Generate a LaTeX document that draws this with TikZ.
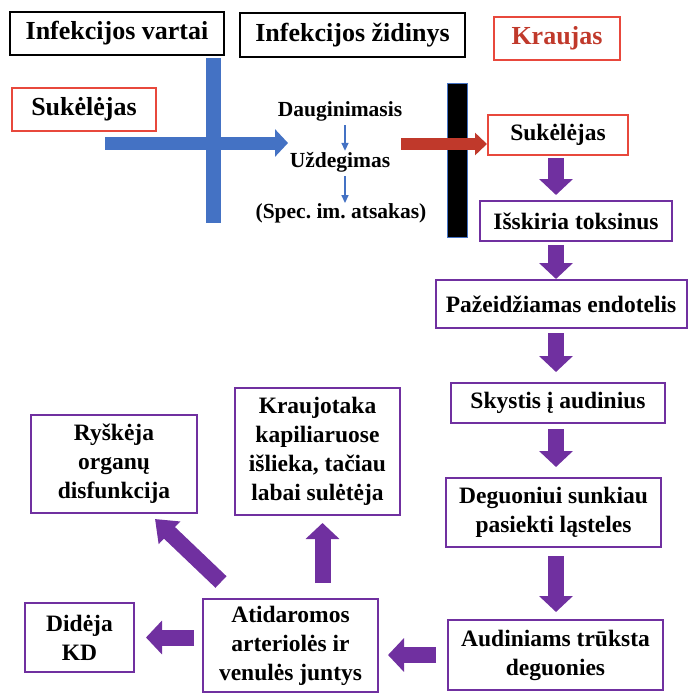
\documentclass[tikz,border=0pt]{standalone}
\usepackage{fontspec}
\setmainfont{Liberation Serif}
\usepackage{xcolor}
\usetikzlibrary{arrows.meta, positioning, calc}

\definecolor{gateblue}{HTML}{4472C4}
\definecolor{flowpurple}{HTML}{7030A0}
\definecolor{bloodred}{HTML}{E8483C}
\definecolor{arrowred}{HTML}{C0392B}

\begin{document}
\frenchspacing
\begin{tikzpicture}[
    x=1pt, y=-1pt,
    every node/.style={inner sep=0pt, align=center},
    headbox/.style={draw=black, line width=2pt, font=\fontsize{26}{30}\selectfont\bfseries},
    redbox/.style={draw=bloodred, line width=2pt, font=\fontsize{23.5}{28}\selectfont\bfseries},
    flowbox/.style={draw=flowpurple, line width=2pt, font=\fontsize{23.5}{29}\selectfont\bfseries},
    stagetext/.style={font=\fontsize{21.5}{25}\selectfont\bfseries},
    flowarrow/.style={flowpurple, line width=16pt, -{Triangle[length=16pt, width=33pt]}},
    thinarrow/.style={gateblue, line width=1.5pt, -{Triangle[length=8pt, width=7pt]}},
]
\useasboundingbox (0,0) rectangle (688,693);

%% Headers
\node[headbox, minimum width=214pt, minimum height=43pt] (vartai) at (117,33.5) {Infekcijos vartai};
\node[headbox, minimum width=225pt, minimum height=44pt] (zidinys) at (352.5,35) {Infekcijos židinys};
\node[redbox, text=arrowred, font=\fontsize{26}{30}\selectfont\bfseries,
      minimum width=126pt, minimum height=43pt] (kraujas) at (557,38.5) {Kraujas};

%% Entry of the agent
\node[redbox, font=\fontsize{26}{30}\selectfont\bfseries,
      minimum width=144pt, minimum height=43pt] (suk1) at (84,109.5) {Sukėlėjas};
\fill[gateblue] (206,58) rectangle (221,223);
\coordinate (bluestart) at (105,143);
\coordinate (blueend) at (288,143);
\draw[gateblue, line width=13pt, -{Triangle[length=13pt, width=27pt]}] (bluestart) -- (blueend);

%% Local focus
\node[stagetext] (daug) at (340,111) {Dauginimasis};
\node[stagetext] (uzd) at (340,162) {Uždegimas};
\node[stagetext] (spec) at (341,213) {(Spec. im. atsakas)};
\draw[thinarrow, shorten <=4pt, shorten >=1pt] (daug.south -| 345,0) -- (uzd.north -| 345,0);
\draw[thinarrow, shorten <=4pt, shorten >=0pt] (uzd.south -| 345,0) -- (spec.north -| 345,0);

%% Barrier and blood
\filldraw[fill=black, draw=gateblue, line width=0.8pt] (447,83) rectangle (467,237);
\node[redbox, minimum width=140pt, minimum height=40pt] (suk2) at (558,135) {Sukėlėjas};
\coordinate (redstart) at (401,144);
\draw[arrowred, line width=12pt, -{Triangle[length=12pt, width=22pt]}] (redstart) -- (redstart -| suk2.west);

%% Right column
\node[flowbox, minimum width=192pt, minimum height=40pt] (isskiria) at (576,221) {Išskiria toksinus};
\node[flowbox, minimum width=251pt, minimum height=48pt] (endot) at (561,304) {Pažeidžiamas endotelis};
\node[flowbox, minimum width=214pt, minimum height=40pt] (skystis) at (558,403) {Skystis į audinius};
\node[flowbox, minimum width=215pt, minimum height=69pt] (deguon) at (553.5,512.5) {Deguoniui sunkiau\\pasiekti ląsteles};
\node[flowbox, minimum width=215pt, minimum height=70pt] (audin) at (555.5,655) {Audiniams trūksta\\deguonies};

%% Left part
\node[flowbox, minimum width=175pt, minimum height=93pt] (atid) at (290.5,645.5) {Atidaromos\\arteriolės ir\\venulės juntys};
\node[flowbox, minimum width=109pt, minimum height=69pt] (didej) at (79.5,637.5) {Didėja\\KD};
\node[flowbox, minimum width=166pt, minimum height=98pt] (rysk) at (114,464) {Ryškėja\\organų\\disfunkcija};
\node[flowbox, minimum width=165pt, minimum height=127pt] (kraujo) at (317.5,451.5) {Kraujotaka\\kapiliaruose\\išlieka, tačiau\\labai sulėtėja};

%% Arrows
\coordinate (spine) at (556,0);
\draw[flowarrow, shorten <=2pt, shorten >=5pt] (suk2.south -| spine) -- (isskiria.north -| spine);
\draw[flowarrow, shorten <=3pt] (isskiria.south -| spine) -- (endot.north -| spine);
\draw[flowarrow, shorten <=4pt, shorten >=10pt] (endot.south -| spine) -- (skystis.north -| spine);
\draw[flowarrow, shorten <=5pt, shorten >=10pt] (skystis.south -| spine) -- (deguon.north -| spine);
\draw[flowarrow, shorten <=8pt, shorten >=7pt] (deguon.south -| spine) -- (audin.north -| spine);
\draw[flowarrow, shorten <=11pt, shorten >=9pt] (audin.west) -- (audin.west -| atid.east);
\draw[flowarrow, shorten <=8pt, shorten >=11pt] (atid.west |- didej.east) -- (didej.east);
\draw[flowarrow, -{Triangle[length=20pt, width=30pt]}] ($(atid.north west)+(19,-16)$) -- ($(rysk.south)+(41,5)$);
\draw[flowarrow] ($(kraujo.south)+(5,67)$) -- ($(kraujo.south)+(5,7)$);
\end{tikzpicture}
\end{document}
